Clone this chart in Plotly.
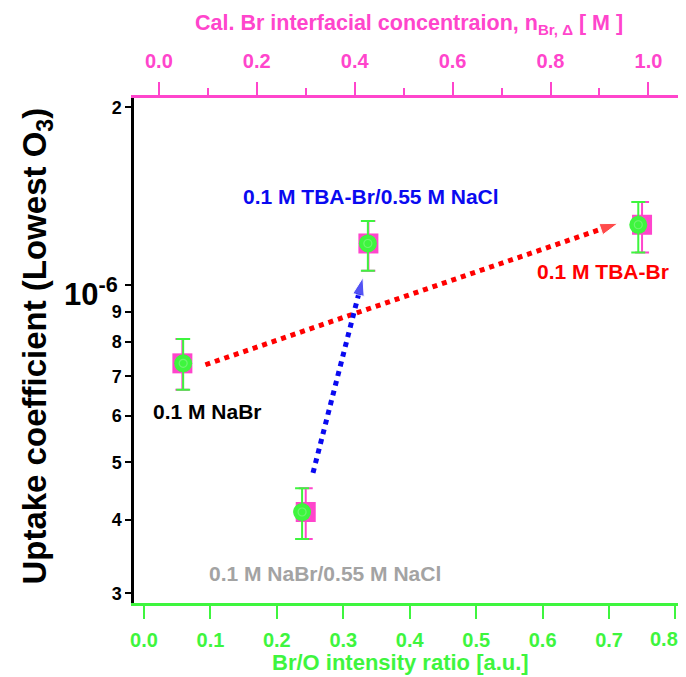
import plotly.graph_objects as go

# ---------------- data ----------------
samples = ["0.1 M NaBr", "0.1 M NaBr/0.55 M NaCl", "0.1 M TBA-Br/0.55 M NaCl", "0.1 M TBA-Br"]
br_o_ratio = [0.059, 0.238, 0.337, 0.744]          # bottom axis (green circles)
br_conc = [0.048, 0.300, 0.428, 0.987]             # top axis (magenta squares)
uptake = [7.36e-7, 4.12e-7, 1.175e-6, 1.264e-6]
err_plus = [0.73e-7, 0.40e-7, 0.108e-6, 0.118e-6]
err_minus = [0.72e-7, 0.41e-7, 0.119e-6, 0.130e-6]

# arrows (start -> tip) in bottom-axis / uptake coordinates
red_arrow_x = [0.0925, 0.7135]
red_arrow_y = [7.32e-7, 1.271e-6]
blue_arrow_x = [0.2544, 0.3296]
blue_arrow_y = [4.80e-7, 1.029e-6]

y_tickvals = [3e-7, 4e-7, 5e-7, 6e-7, 7e-7, 8e-7, 9e-7, 1e-6, 2e-6]
y_ticktext = ["3", "4", "5", "6", "7", "8", "9", "", "2"]
bottom_ticks = [0.0, 0.1, 0.2, 0.3, 0.4, 0.5, 0.6, 0.7, 0.8]
bottom_ticktext = ["0.0", "0.1", "0.2", "0.3", "0.4", "0.5", "0.6", "0.7", ""]
bottom_last_label = "0.8"
top_ticks = [0.0, 0.2, 0.4, 0.6, 0.8, 1.0]

GREEN = "#3ef53e"
MAGENTA = "#ff45cc"
FONT = "Liberation Sans, Arial, sans-serif"

OFF = 8  # page body margin
W, H = 686, 677
FW, FH = W - OFF, H - OFF
# plot-area edges in page pixels
L, R, T, B = 133.5, 682.0, 98.0, 603.0

fig = go.Figure()

# magenta squares on top axis (primary x)
fig.add_trace(go.Scatter(
    x=br_conc, y=uptake, xaxis="x", yaxis="y", mode="markers",
    marker=dict(symbol="square", size=20, color=MAGENTA),
    error_y=dict(type="data", array=err_plus, arrayminus=err_minus,
                 color=MAGENTA, thickness=2, width=7),
    showlegend=False, hoverinfo="skip"))

# green circles on bottom axis (overlay x2)
fig.add_trace(go.Scatter(
    x=br_o_ratio, y=uptake, xaxis="x2", yaxis="y", mode="markers",
    marker=dict(symbol="circle", size=18, color=GREEN),
    error_y=dict(type="data", array=err_plus, arrayminus=err_minus,
                 color=GREEN, thickness=2, width=7),
    showlegend=False, hoverinfo="skip"))
fig.add_trace(go.Scatter(
    x=br_o_ratio, y=uptake, xaxis="x2", yaxis="y", mode="markers",
    marker=dict(symbol="circle-open", size=8, color="#70f470", line=dict(width=1.2)),
    showlegend=False, hoverinfo="skip"))

# dotted arrows
for ax_, ay_, col in [(red_arrow_x, red_arrow_y, "#ff0000"), (blue_arrow_x, blue_arrow_y, "#0a0af0")]:
    fig.add_trace(go.Scatter(
        x=ax_, y=ay_, xaxis="x2", yaxis="y", mode="lines+markers",
        line=dict(color=col, width=5, dash="dot"),
        marker=dict(symbol=["circle", "arrow"], size=[0, 19], color=col, angleref="previous"),
        showlegend=False, hoverinfo="skip"))

pw, ph = R - L, B - T
def px(xp):
    return (xp - L) / pw
def py(yp):
    return (B - yp) / ph

fig.update_layout(
    width=FW, height=FH,
    margin=dict(l=L - OFF, r=W - R, t=T - OFF, b=H - B, autoexpand=False),
    paper_bgcolor="white", plot_bgcolor="white",
    font=dict(family=FONT, color="black"),
    xaxis=dict(range=[-0.0508, 1.0686], side="top", anchor="y",
               tickvals=top_ticks, tickformat=".1f",
               ticks="outside", ticklen=13, tickwidth=2, tickcolor=MAGENTA,
               minor=dict(dtick=0.1, ticklen=7, tickwidth=2, tickcolor=MAGENTA, ticks="outside"),
               showline=True, linecolor=MAGENTA, linewidth=2.5, showgrid=False, zeroline=False,
               tickfont=dict(family=FONT, size=20, color=MAGENTA, weight="bold"),
               ticklabelstandoff=6, ticklabeloverflow="allow", automargin=False),
    xaxis2=dict(range=[-0.015, 0.8098], overlaying="x", side="bottom", anchor="y",
                tickvals=bottom_ticks, ticktext=bottom_ticktext,
                ticks="outside", ticklen=13, tickwidth=2, tickcolor=GREEN,
                showline=True, linecolor=GREEN, linewidth=2.5, showgrid=False, zeroline=False,
                tickfont=dict(family=FONT, size=20, color=GREEN, weight="bold"),
                ticklabelstandoff=4, ticklabeloverflow="allow", automargin=False),
    yaxis=dict(type="log", range=[-6.5393, -5.6834], tickvals=y_tickvals, ticktext=y_ticktext,
               ticks="outside", ticklen=6, tickwidth=2, tickcolor="black",
               showline=True, linecolor="black", linewidth=2.5, mirror=True,
               showgrid=False, zeroline=False,
               tickfont=dict(family=FONT, size=18, color="black", weight="bold"),
               automargin=False),
)

ann = []
# last bottom tick label, kept inside the page
ann.append(dict(text=bottom_last_label, xref="paper", yref="paper",
                x=px(680), y=py(639), showarrow=False, xanchor="right", yanchor="middle",
                font=dict(family=FONT, size=20, color=GREEN, weight="bold")))
# axis titles
ann.append(dict(text="Br/O intensity ratio [a.u.]", xref="paper", yref="paper",
                x=px(400), y=py(662), showarrow=False, xanchor="center", yanchor="middle",
                font=dict(family=FONT, size=22, color=GREEN, weight="bold")))
ann.append(dict(text="Cal. Br interfacial concentraion, n<sub>Br, \u0394</sub> [ M ]", xref="paper", yref="paper",
                x=px(409), y=py(24), showarrow=False, xanchor="center", yanchor="middle",
                font=dict(family=FONT, size=21.5, color=MAGENTA, weight="bold")))
ann.append(dict(text="Uptake coefficient (Lowest O<sub>3</sub>)", xref="paper", yref="paper",
                x=px(36), y=py(346), showarrow=False, textangle=-90, xanchor="center", yanchor="middle",
                font=dict(family=FONT, size=33, color="black", weight="bold")))
ann.append(dict(text="10<sup>-6</sup>", xref="paper", yref="paper",
                x=px(119), y=py(292), showarrow=False, xanchor="right", yanchor="middle",
                font=dict(family=FONT, size=31, color="black", weight="bold")))

# sample labels
label_colors = ["black", "#a3a3a3", "#0a0af0", "#ff0000"]
label_px = [(207, 411), (325, 573), (371, 197), (603, 271)]
for s, c, (lx, ly) in zip(samples, label_colors, label_px):
    ann.append(dict(text=s, xref="paper", yref="paper", x=px(lx), y=py(ly), showarrow=False,
                    xanchor="center", yanchor="middle",
                    font=dict(family=FONT, size=21, color=c, weight="bold")))

fig.update_layout(annotations=ann)
fig.write_html("out.html")
